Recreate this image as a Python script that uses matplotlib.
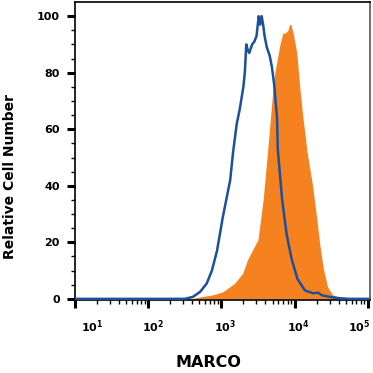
import numpy as np
import matplotlib
matplotlib.use("Agg")
import matplotlib.pyplot as plt
from matplotlib.ticker import FixedLocator, NullFormatter
from matplotlib.transforms import ScaledTranslation

# ---- data (log10 of MARCO intensity, relative cell number) ----
isotype_log_x = [1.00, 2.50, 2.61, 2.71, 2.80, 2.87, 2.94, 3.02, 3.12, 3.16, 3.21, 3.25,
                 3.30, 3.32, 3.34, 3.36, 3.38, 3.42, 3.45, 3.48, 3.51, 3.53, 3.55, 3.57,
                 3.59, 3.62, 3.66, 3.69, 3.72, 3.76, 3.77, 3.83, 3.89, 3.96, 4.04, 4.14,
                 4.25, 4.32, 4.37, 4.48, 4.62, 4.75, 5.03]
isotype_y = [0.0, 0.0, 0.7, 2.5, 5.5, 10, 17, 29, 42, 52, 62, 67,
             75, 80, 90, 88, 87, 90, 91, 93, 100, 97, 100, 97,
             93, 89, 86, 82, 76, 64, 53, 35, 23, 14, 7, 3,
             2, 2.2, 1.3, 0.7, 0.2, 0.0, 0.0]

marco_log_x = [1.00, 2.57, 2.71, 2.88, 3.02, 3.18, 3.29, 3.36, 3.43, 3.50, 3.57, 3.63,
               3.70, 3.73, 3.80, 3.84, 3.87, 3.91, 3.93, 3.95, 3.98, 4.03, 4.07, 4.11,
               4.17, 4.24, 4.30, 4.34, 4.39, 4.45, 4.52, 4.62, 4.73, 5.03]
marco_y = [0.0, 0.0, 0.7, 1.4, 2.5, 5.5, 9, 14, 17.5, 21, 35, 52,
           73, 80, 90, 94, 94, 95, 97, 97, 94, 87, 75, 65,
           52, 41, 29, 20, 11, 4.2, 1.4, 0.4, 0.0, 0.0]

y_ticks = [0, 20, 40, 60, 80, 100]
x_tick_exps = [1, 2, 3, 4, 5]
x_label_shift_px = [17, 5, 4, 4, -9]

BLUE = "#1c4f9e"
ORANGE = "#f5821f"

plt.rcParams["font.family"] = ["DejaVu Sans"]
plt.rcParams["font.weight"] = "bold"
plt.rcParams["mathtext.fontset"] = "custom"
plt.rcParams["mathtext.rm"] = "DejaVu Sans:bold"
plt.rcParams["mathtext.it"] = "DejaVu Sans:bold"
plt.rcParams["mathtext.bf"] = "DejaVu Sans:bold"

fig = plt.figure(figsize=(3.73, 3.73), dpi=100)
ax = fig.add_axes([75 / 373, 73 / 373, 295 / 373, 298 / 373])

mx = 10 ** np.array(marco_log_x)
ix = 10 ** np.array(isotype_log_x)
ax.fill_between(mx, marco_y, 0, color=ORANGE, lw=0, zorder=2)
ax.plot(ix, isotype_y, color=BLUE, lw=1.8, zorder=3, solid_joinstyle="round")

ax.set_xscale("log")
ax.set_xlim(10, 10 ** 5.03)
ax.set_ylim(-0.4, 105)

# x ticks
ax.xaxis.set_major_locator(FixedLocator([10 ** e for e in x_tick_exps]))
minor = [m * 10 ** e for e in range(1, 5) for m in range(2, 10)]
ax.xaxis.set_minor_locator(FixedLocator(minor))
ax.xaxis.set_minor_formatter(NullFormatter())
ax.set_xticklabels([r"$\mathregular{10^{%d}}$" % e for e in x_tick_exps])
ax.tick_params(axis="x", which="major", direction="out", length=6, width=2.2,
               labelsize=8, pad=7, color="black")
ax.tick_params(axis="x", which="minor", direction="out", length=3, width=1.0, color="black")
for lbl, dx in zip(ax.get_xticklabels(), x_label_shift_px):
    lbl.set_transform(lbl.get_transform() + ScaledTranslation(dx / 100, 0, fig.dpi_scale_trans))

# y ticks
ax.set_yticks(y_ticks)
ax.set_yticks(np.arange(0, 105, 5), minor=True)
ax.set_yticklabels([str(v) for v in y_ticks])
ax.tick_params(axis="y", which="major", direction="out", length=6, width=2.2,
               labelsize=8, pad=5)
ax.tick_params(axis="y", which="minor", direction="out", length=3, width=1.0)

for side in ["left", "bottom", "top"]:
    ax.spines[side].set_linewidth(1.2)
    ax.spines[side].set_color("black")
ax.spines["right"].set_linewidth(1.2)
ax.spines["right"].set_color("#555555")

ax.set_ylabel("Relative Cell Number", fontsize=10, fontweight="bold")
ax.yaxis.set_label_coords(-0.195, 0.416)
ax.set_xlabel("MARCO", fontsize=11.5, fontweight="bold")
ax.xaxis.set_label_coords(0.454, -0.185)

fig.savefig("out.png", dpi=100)
